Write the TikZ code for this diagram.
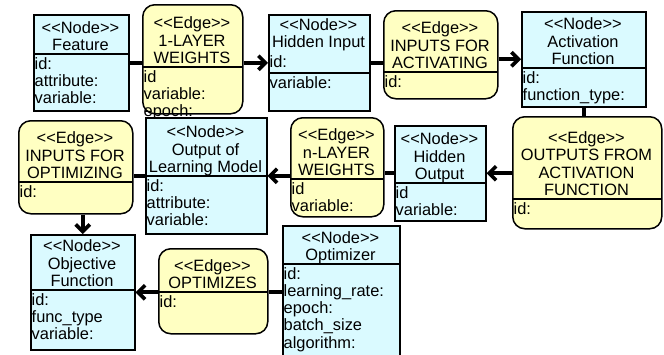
\documentclass[tikz,border=0pt]{standalone}
\usepackage{fontspec}
\setmainfont{Liberation Sans}
\usetikzlibrary{arrows.meta}

\definecolor{nodefill}{RGB}{218,250,255}
\definecolor{edgefill}{RGB}{255,255,194}

% stereotype label such as <<Node>>, kept free of font ligatures
\newcommand{\stereo}[1]{<\kern0pt<#1>\kern0pt>}

% class-like box: name, style, x1, y1, x2, y2, divider y, header, body
\newcommand{\umlbox}[9]{%
  \node[#2, anchor=north west, minimum width={#5pt-#3pt}, minimum height={#6pt-#4pt}] (#1) at (#3,#4) {};
  \draw[divider] (#3,#7) -- (#5,#7);
  \node[headtext, anchor=south] (#1-h) at ({(#3+#5)/2},#7-3.5) {#8};
  \node[bodytext, anchor=north west] (#1-b) at (#3+1.5,#7+3) {#9};
}

\tikzset{
  boxfont/.style={font=\fontsize{16.4}{17.3}\selectfont},
  nodebox/.style={draw=black, line width=1.5pt, fill=nodefill, inner sep=0pt},
  edgebox/.style={draw=black, line width=1.5pt, fill=edgefill, rounded corners=12pt, inner sep=0pt},
  divider/.style={line width=1.5pt},
  headtext/.style={boxfont, align=center, inner sep=0pt, text depth=0pt},
  bodytext/.style={boxfont, align=left, inner sep=0pt},
  conn/.style={line width=3.6pt},
  arr/.style={conn, -{Straight Barb[length=7pt,width=14pt]}}
}

\begin{document}
\begin{tikzpicture}[x=1pt,y=-1pt]
\useasboundingbox (0,0) rectangle (664,354);
\fill[white] (0,0) rectangle (664,354);

% top row
\umlbox{feature}{nodebox}{33}{14}{128}{110}{54}{\stereo{Node}\\Feature}{id:\\attribute:\\variable:}
\umlbox{w1}{edgebox}{142}{4}{242}{113}{67}{\stereo{Edge}\\1-LAYER\\WEIGHTS}{id\\variable:\\epoch:}
\umlbox{hin}{nodebox}{268}{14}{369}{110}{73}{}{variable:}
\node[headtext, anchor=south] (hin-t) at (318.5,48) {\stereo{Node}\\Hidden Input};
\node[bodytext, anchor=base west] (hin-id) at (269.5,67) {id:};
\umlbox{ia}{edgebox}{383}{10}{497}{98}{72}{\stereo{Edge}\\INPUTS FOR\\ACTIVATING}{id:}
\umlbox{actfn}{nodebox}{521}{11}{645}{106}{68}{\stereo{Node}\\Activation\\Function}{id:\\function\_type:}

% middle row
\umlbox{iopt}{edgebox}{18}{120}{132}{213}{182}{\stereo{Edge}\\INPUTS FOR\\OPTIMIZING}{id:}
\umlbox{olm}{nodebox}{145}{117}{266}{233}{176}{\stereo{Node}\\Output of\\Learning Model}{id:\\attribute:\\variable:}
\umlbox{nw}{edgebox}{290}{117}{383}{216}{179}{\stereo{Edge}\\n-LAYER\\WEIGHTS}{id\\variable:}
\umlbox{hout}{nodebox}{394}{125}{485}{220}{183}{\stereo{Node}\\Hidden\\Output}{id\\variable:}
\umlbox{of}{edgebox}{512}{116}{661}{228}{199}{\stereo{Edge}\\OUTPUTS FROM\\ACTIVATION\\FUNCTION}{id:}

% bottom row
\umlbox{obj}{nodebox}{30}{234}{134}{349}{290}{\stereo{Node}\\Objective\\Function}{id:\\func\_type\\variable:}
\umlbox{optz}{edgebox}{158}{248}{267}{333}{292}{\stereo{Edge}\\OPTIMIZES}{id:}
\umlbox{opt}{nodebox}{282}{225}{399}{372}{264}{\stereo{Node}\\Optimizer}{id:\\learning\_rate:\\epoch:\\batch\_size\\algorithm:}

% connectors
\draw[conn] (feature.east) -- (feature.east -| w1.west);
\draw[arr] (w1.east |- hin.west) -- (hin.west);
\draw[conn] (hin.east) -- (hin.east -| ia.west);
\draw[arr] (ia.east |- actfn.west) -- (actfn.west);
\draw[conn] (actfn.south) -- (actfn.south |- of.north);
\draw[arr] (of.west |- hout.east) -- (hout.east);
\draw[conn] (hout.west) -- (hout.west -| nw.east);
\draw[arr] (nw.west |- olm.east) -- (olm.east);
\draw[conn] (olm.west) -- (olm.west -| iopt.east);
\draw[arr] (obj.north |- iopt.south) -- (obj.north);
\draw[conn] (opt.west |- obj.east) -- (optz.east |- obj.east);
\draw[arr] (optz.west |- obj.east) -- (obj.east);
\end{tikzpicture}
\end{document}
